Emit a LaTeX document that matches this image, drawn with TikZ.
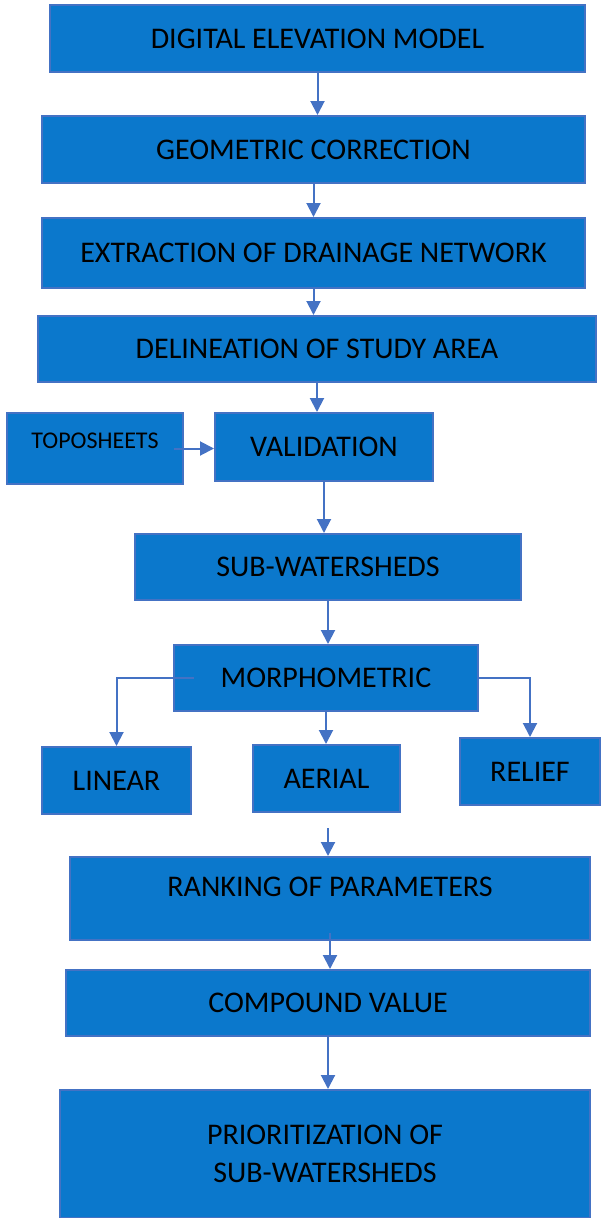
\documentclass[tikz,border=0pt]{standalone}
\usepackage{fontspec}
\setmainfont{Carlito}
\usetikzlibrary{arrows.meta}
\definecolor{boxfill}{RGB}{11,120,204}
\definecolor{boxline}{RGB}{68,114,196}
\begin{document}
\begin{tikzpicture}[x=1pt,y=-1pt]

\def\bigtext{\fontsize{30}{38}\selectfont}
\def\smalltext{\fontsize{24}{28}\selectfont}

\tikzset{stage/.style = {draw=boxline, line width=2pt, fill=boxfill, rectangle, inner sep=0pt, font=\bigtext, text=black}}
\tikzset{flow/.style = {draw=boxline, line width=2pt, -{Triangle[length=14pt,width=14pt]}}}

\useasboundingbox (0,0) rectangle (601,1218);

% main chain
\node[stage, minimum width=535pt, minimum height=67pt] (dem) at (317.5,38.5) {DIGITAL ELEVATION MODEL};
\node[stage, minimum width=543pt, minimum height=67pt] (geo) at (313.5,149.5) {GEOMETRIC CORRECTION};
\node[stage, minimum width=543pt, minimum height=70pt] (ext) at (313.5,253) {EXTRACTION OF DRAINAGE NETWORK};
\node[stage, minimum width=558pt, minimum height=66pt] (del) at (317,349) {DELINEATION OF STUDY AREA};

\node[stage, minimum width=176pt, minimum height=71pt, font=\smalltext, text depth=16pt] (topo) at (95,448.5) {TOPOSHEETS};
\node[stage, minimum width=218pt, minimum height=68pt] (val) at (324,447) {VALIDATION};

\node[stage, minimum width=386pt, minimum height=66pt] (sub) at (328,567) {SUB-WATERSHEDS};
\node[stage, minimum width=304pt, minimum height=66pt] (morph) at (326,678) {MORPHOMETRIC};

% parameters
\node[stage, minimum width=149pt, minimum height=67pt] (linear) at (116.5,780.5) {LINEAR};
\node[stage, minimum width=147pt, minimum height=67pt] (aerial) at (326.5,778.5) {AERIAL};
\node[stage, minimum width=140pt, minimum height=67pt] (relief) at (530,771.5) {RELIEF};

\node[stage, minimum width=520pt, minimum height=83pt, text depth=24pt] (rank) at (330,898.5) {RANKING OF PARAMETERS};
\node[stage, minimum width=524pt, minimum height=66pt] (comp) at (328,1003) {COMPOUND VALUE};
\node[stage, minimum width=530pt, minimum height=128pt, align=center] (prior) at (325,1154) {PRIORITIZATION OF\\ SUB-WATERSHEDS};

\coordinate (rankin) at (328,828);

\draw[flow] (dem.south) -- (dem.south |- geo.north);
\draw[flow] (geo.south) -- (geo.south |- ext.north);
\draw[flow] (ext.south) -- (ext.south |- del.north);
\draw[flow] (del.south) -- (del.south |- val.north);
\draw[flow] ([xshift=-10pt]topo.east) -- (val.west |- topo.east);
\draw[flow] (val.south) -- (val.south |- sub.north);
\draw[flow] (sub.south) -- (sub.south |- morph.north);

\draw[flow] ([xshift=21pt]morph.west) -| (linear.north);
\draw[flow] (morph.south) -- (morph.south |- aerial.north);
\draw[flow] (morph.east) -| (relief.north);

\draw[flow] (rankin) -- (rankin |- rank.north);
\draw[flow] ([yshift=8pt]rank.south) -- (rank.south |- comp.north);
\draw[flow] (comp.south) -- (comp.south |- prior.north);

\end{tikzpicture}
\end{document}
